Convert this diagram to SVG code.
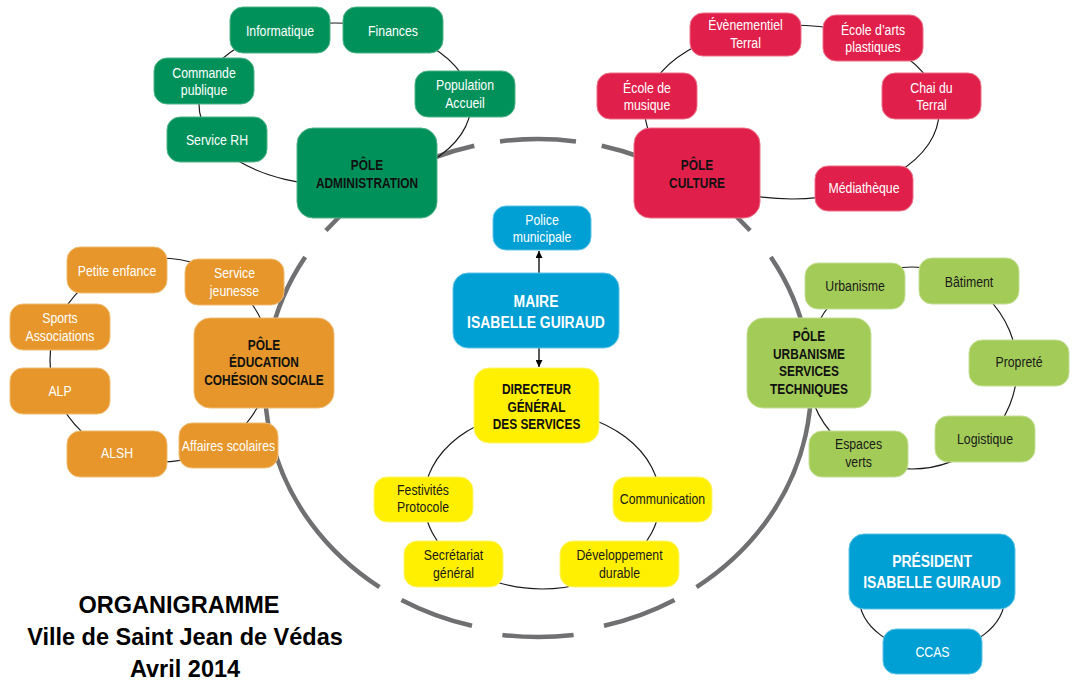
<svg xmlns="http://www.w3.org/2000/svg" width="1073" height="680" viewBox="0 0 1073 680">
<style>
text{font-family:'Liberation Sans',Arial,sans-serif;text-anchor:middle;font-size:15px}
.w,.k,.b,.bb{transform-box:fill-box;transform-origin:center;transform:scaleX(0.82)}
.b{font-weight:bold;font-size:14.5px;fill:#111}
.bb{font-weight:bold;font-size:17px;fill:#fff}
.w{fill:#fff}
.k{fill:#1a1a1a}
.gA{fill:#00915B;stroke:#4fb388;stroke-width:1}
.rA{fill:#E0204A;stroke:#ec6f88;stroke-width:1}
.oA{fill:#E6962A;stroke:#f0bb72;stroke-width:1}
.bA{fill:#009FD4;stroke:#5cc3e6;stroke-width:1}
.yA{fill:#FFEF00;stroke:#fff56e;stroke-width:1}
.lA{fill:#A3CB58;stroke:#c4de93;stroke-width:1}
.ring{fill:none;stroke:#1a1a1a;stroke-width:1.2}
.big{fill:none;stroke:#707072;stroke-width:4.5}
.title{font-family:'Liberation Sans',Arial,sans-serif;font-weight:bold;font-size:23.5px;fill:#000}
</style>
<defs>
<marker id="ah" viewBox="0 0 10 10" refX="10" refY="5" markerWidth="7" markerHeight="7" orient="auto-start-reverse" markerUnits="userSpaceOnUse">
<path d="M0,0 L10,5 L0,10 z" fill="#000"/>
</marker>
</defs>
<rect width="1073" height="680" fill="#fff"/>
<g id="connectors">
<g id="big-ring" class="big">
<path d="M325.9,230.6 A273,247 0 0 1 474.3,145.8"/>
<path d="M500,141.4 A273,247 0 0 1 576,141.4"/>
<path d="M601.7,145.8 A273,247 0 0 1 750.1,230.6"/>
<path d="M770.8,256.9 A273,247 0 0 1 696.5,587.1"/>
<path d="M674.5,599.9 A273,247 0 0 1 604,625.7"/>
<path d="M573.6,634.9 A273,247 0 0 1 502.4,634.9"/>
<path d="M472,625.7 A273,247 0 0 1 401.5,599.9"/>
<path d="M379.5,587.1 A273,247 0 0 1 305.2,256.9"/>
</g>
<ellipse class="ring" cx="335" cy="104" rx="136" ry="81"/>
<ellipse class="ring" cx="792" cy="112" rx="147" ry="87"/>
<ellipse class="ring" cx="160" cy="360" rx="110" ry="102"/>
<ellipse class="ring" cx="542" cy="500" rx="118" ry="89"/>
<ellipse class="ring" cx="912" cy="368" rx="105" ry="101"/>
<ellipse class="ring" cx="932" cy="596" rx="73" ry="55"/>
<line x1="539" y1="273" x2="539" y2="251" stroke="#000" stroke-width="1.3" marker-end="url(#ah)"/>
<line x1="539" y1="348" x2="539" y2="367" stroke="#000" stroke-width="1.3" marker-end="url(#ah)"/>
</g>

<g id="informatique"><rect class="gA" x="230" y="7" width="100" height="46" rx="13"/><text class="w" x="280" y="36">Informatique</text></g>
<g id="finances"><rect class="gA" x="343" y="7" width="100" height="46" rx="13"/><text class="w" x="393" y="36">Finances</text></g>
<g id="commande-publique"><rect class="gA" x="154" y="58" width="100" height="46" rx="13"/><text class="w" x="204" y="78">Commande</text><text class="w" x="204" y="95.5">publique</text></g>
<g id="population-accueil"><rect class="gA" x="415" y="71" width="100" height="46" rx="13"/><text class="w" x="465" y="90.5">Population</text><text class="w" x="465" y="108">Accueil</text></g>
<g id="service-rh"><rect class="gA" x="167" y="117" width="100" height="45" rx="13"/><text class="w" x="217" y="145">Service RH</text></g>
<g id="pole-administration"><rect class="gA" x="297" y="128" width="140" height="90" rx="16"/><text class="b" x="367" y="170">PÔLE</text><text class="b" x="367" y="188">ADMINISTRATION</text></g>

<g id="evenementiel-terral"><rect class="rA" x="690" y="13" width="111" height="43" rx="13"/><text class="w" x="745.5" y="30.5">Évènementiel</text><text class="w" x="745.5" y="48.5">Terral</text></g>
<g id="ecole-arts"><rect class="rA" x="823" y="15" width="100" height="46" rx="13"/><text class="w" x="873" y="35">École d’arts</text><text class="w" x="873" y="52.5">plastiques</text></g>
<g id="ecole-musique"><rect class="rA" x="597" y="73" width="100" height="46" rx="13"/><text class="w" x="647" y="93">École de</text><text class="w" x="647" y="110.5">musique</text></g>
<g id="chai-terral"><rect class="rA" x="882" y="73" width="99" height="46" rx="13"/><text class="w" x="931.5" y="93">Chai du</text><text class="w" x="931.5" y="110.5">Terral</text></g>
<g id="pole-culture"><rect class="rA" x="634" y="128" width="126" height="90" rx="16"/><text class="b" x="697" y="170">PÔLE</text><text class="b" x="697" y="188">CULTURE</text></g>
<g id="mediatheque"><rect class="rA" x="815" y="166" width="98" height="45" rx="13"/><text class="w" x="864" y="193.5">Médiathèque</text></g>

<g id="petite-enfance"><rect class="oA" x="67" y="247" width="100" height="46" rx="13"/><text class="w" x="117" y="276">Petite enfance</text></g>
<g id="service-jeunesse"><rect class="oA" x="185" y="259" width="99" height="46" rx="13"/><text class="w" x="234.5" y="278.5">Service</text><text class="w" x="234.5" y="296">jeunesse</text></g>
<g id="sports-associations"><rect class="oA" x="10" y="304" width="100" height="46" rx="13"/><text class="w" x="60" y="323.5">Sports</text><text class="w" x="60" y="341">Associations</text></g>
<g id="pole-education"><rect class="oA" x="194" y="318" width="140" height="90" rx="16"/><text class="b" x="264" y="350">PÔLE</text><text class="b" x="264" y="367.5">ÉDUCATION</text><text class="b" x="264" y="385">COHÉSION SOCIALE</text></g>
<g id="alp"><rect class="oA" x="10" y="368" width="100" height="46" rx="13"/><text class="w" x="60" y="396">ALP</text></g>
<g id="alsh"><rect class="oA" x="67" y="431" width="100" height="46" rx="13"/><text class="w" x="117" y="458.5">ALSH</text></g>
<g id="affaires-scolaires"><rect class="oA" x="179" y="423" width="99" height="45" rx="13"/><text class="w" x="228.5" y="451.5">Affaires scolaires</text></g>

<g id="police-municipale"><rect class="bA" x="493" y="206" width="98" height="44" rx="13"/><text class="w" x="542" y="225">Police</text><text class="w" x="542" y="242.5">municipale</text></g>
<g id="maire"><rect class="bA" x="453" y="273" width="166" height="75" rx="15"/><text class="bb" x="536" y="307">MAIRE</text><text class="bb" x="536" y="328">ISABELLE GUIRAUD</text></g>
<g id="directeur"><rect class="yA" x="474" y="368" width="125" height="75" rx="15"/><text class="b" x="536.5" y="394">DIRECTEUR</text><text class="b" x="536.5" y="412">GÉNÉRAL</text><text class="b" x="536.5" y="429.5">DES SERVICES</text></g>
<g id="festivites"><rect class="yA" x="374" y="477" width="99" height="45" rx="13"/><text class="k" x="423" y="495">Festivités</text><text class="k" x="423" y="512.5">Protocole</text></g>
<g id="communication"><rect class="yA" x="613" y="477" width="99" height="45" rx="13"/><text class="k" x="662.5" y="504">Communication</text></g>
<g id="secretariat"><rect class="yA" x="404" y="541" width="99" height="46" rx="13"/><text class="k" x="453.5" y="560.5">Secrétariat</text><text class="k" x="453.5" y="578">général</text></g>
<g id="developpement"><rect class="yA" x="560" y="541" width="119" height="46" rx="13"/><text class="k" x="619.5" y="560.5">Développement</text><text class="k" x="619.5" y="578">durable</text></g>

<g id="urbanisme"><rect class="lA" x="805" y="263" width="100" height="46" rx="13"/><text class="k" x="855" y="291">Urbanisme</text></g>
<g id="batiment"><rect class="lA" x="919" y="258" width="100" height="46" rx="13"/><text class="k" x="969" y="287">Bâtiment</text></g>
<g id="pole-urbanisme"><rect class="lA" x="747" y="318" width="124" height="90" rx="16"/><text class="b" x="809" y="341.5">PÔLE</text><text class="b" x="809" y="359">URBANISME</text><text class="b" x="809" y="376.5">SERVICES</text><text class="b" x="809" y="394">TECHNIQUES</text></g>
<g id="proprete"><rect class="lA" x="969" y="340" width="100" height="46" rx="13"/><text class="k" x="1019" y="367.5">Propreté</text></g>
<g id="logistique"><rect class="lA" x="935" y="416" width="100" height="46" rx="13"/><text class="k" x="985" y="444">Logistique</text></g>
<g id="espaces-verts"><rect class="lA" x="809" y="431" width="99" height="46" rx="13"/><text class="k" x="858.5" y="449.5">Espaces</text><text class="k" x="858.5" y="467">verts</text></g>

<g id="president"><rect class="bA" x="849" y="534" width="166" height="75" rx="15"/><text class="bb" x="932" y="567">PRÉSIDENT</text><text class="bb" x="932" y="588">ISABELLE GUIRAUD</text></g>
<g id="ccas"><rect class="bA" x="883" y="629" width="99" height="45" rx="13"/><text class="w" x="932.5" y="657">CCAS</text></g>

<g id="title">
<text class="title" x="179" y="613">ORGANIGRAMME</text>
<text class="title" x="185" y="645">Ville de Saint Jean de Védas</text>
<text class="title" x="185" y="677">Avril 2014</text>
</g>
</svg>
